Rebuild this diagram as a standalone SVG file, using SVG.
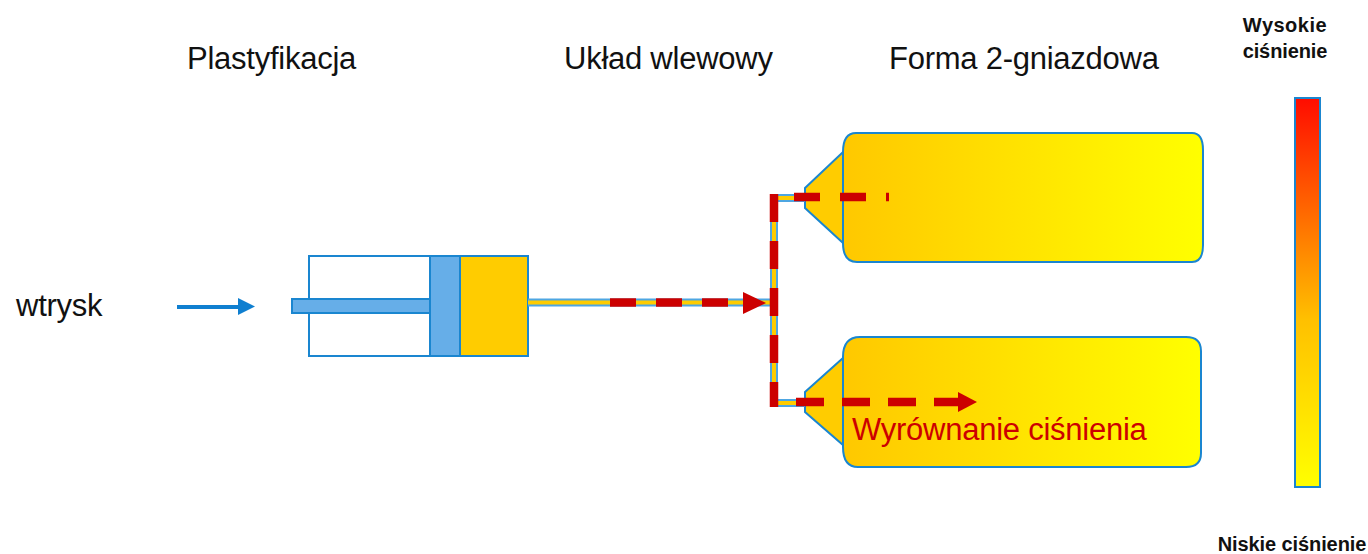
<svg xmlns="http://www.w3.org/2000/svg" width="1368" height="554" viewBox="0 0 1368 554">
<style>
.t{font-family:"Liberation Sans",Arial,sans-serif;fill:#111}
.h{font-size:31px;letter-spacing:-.25px}
.s{font-size:20px;font-weight:bold;letter-spacing:-.1px}
.o{stroke:#1a86d0;stroke-width:2}
.red{fill:none;stroke:#cc0000;stroke-width:8.5}
.ylw{stroke:#ffcc00;stroke-width:4;fill:none}
.blu{stroke:#4ea6e2;stroke-width:8;fill:none}
</style>
<defs>
<linearGradient id="g" x1="0" x2="1" y1="0" y2="0"><stop offset="0" stop-color="#ffc800"/><stop offset="1" stop-color="#ffff00"/></linearGradient>
<linearGradient id="b" x1="0" x2="0" y1="0" y2="1"><stop offset="0" stop-color="#ff0c00"/><stop offset="0.57" stop-color="#ffc000"/><stop offset="1" stop-color="#ffff00"/></linearGradient>
</defs>
<g id="titles">
<text class="t h" x="187" y="69">Plastyfikacja</text>
<text class="t h" x="564" y="69">Układ wlewowy</text>
<text class="t h" x="889" y="69">Forma 2-gniazdowa</text>
<text class="t h" x="16" y="316">wtrysk</text>
</g>
<g id="cylinder">
<rect x="309" y="256" width="219" height="100" fill="#fff" class="o"/>
<rect x="460" y="256" width="68" height="100" fill="#ffcc00" class="o"/>
<rect x="430" y="256" width="30" height="100" fill="#66aee8" class="o"/>
<rect x="292" y="299" width="138" height="14" fill="#66aee8" class="o"/>
</g>
<g id="cavity-top">
<path d="M805 188L843 152V243L805 208Z" fill="#ffcc00" class="o"/>
<path d="M856 133H1192Q1203 133 1203 150V245Q1203 262 1192 262H857Q843 262 843 243V152Q843 133 856 133Z" fill="url(#g)" class="o"/>
</g>
<g id="cavity-bottom">
<path d="M805 392L843 358V445L805 412Z" fill="#ffcc00" class="o"/>
<path d="M860 337H1186Q1201 337 1201 351V453Q1201 467 1186 467H858Q843 467 843 447V357Q843 337 860 337Z" fill="url(#g)" class="o"/>
</g>
<g id="connectors">
<path class="blu" d="M528 302.5H774M774 198V403M774 198H805M774 403H805"/>
<path class="ylw" d="M528 302.5H774M774 198V403M774 198H805M774 403H805"/>
<path class="red" style="stroke-dasharray:28 19" d="M774 194V407"/>
<path class="red" style="stroke-dasharray:26 20" d="M610 302.5H745"/>
<path fill="#cc0000" d="M743 292L766 303L743 314Z"/>
<path class="red" style="stroke-dasharray:26 20 26 20 4 99" d="M794 197H889"/>
<path class="red" style="stroke-dasharray:28 18" d="M796 402H960"/>
<path fill="#cc0000" d="M958 392L977 402L958 412Z"/>
<path stroke="#0f7fd0" stroke-width="4" fill="none" d="M177 307H240"/>
<path fill="#0f7fd0" d="M238 298L255 306.5L238 315Z"/>
</g>
<g id="label"><text class="h" x="852" y="440" font-family="Liberation Sans,Arial,sans-serif" fill="#cc0000">Wyrównanie ciśnienia</text></g>
<g id="scale">
<rect x="1295" y="98" width="25" height="389" fill="url(#b)" class="o"/>
<text class="t s" x="1285" y="32" text-anchor="middle" style="letter-spacing:.5px">Wysokie</text>
<text class="t s" x="1285" y="58" text-anchor="middle">ciśnienie</text>
<text class="t s" x="1292" y="551" text-anchor="middle">Niskie ciśnienie</text>
</g>
</svg>
